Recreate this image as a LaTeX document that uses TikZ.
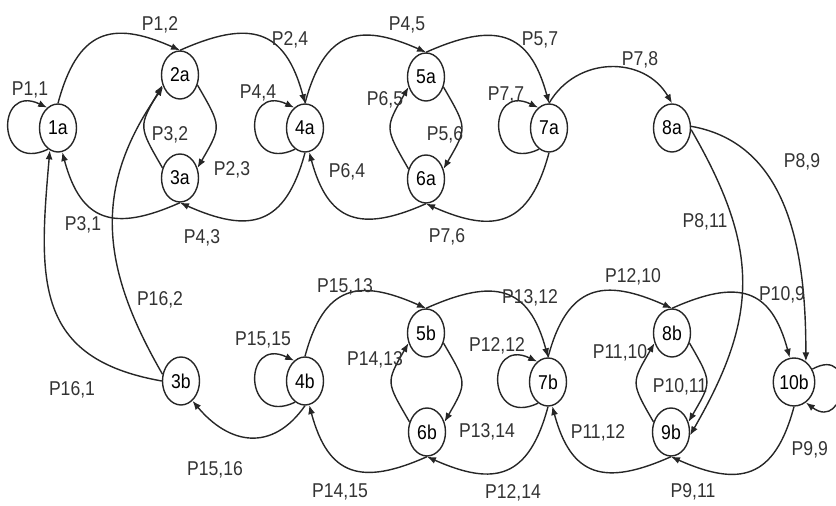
\documentclass[tikz,border=0pt]{standalone}
\usepackage{fontspec}
\setmainfont[FakeStretch=0.88]{Liberation Sans}
\usetikzlibrary{shapes.geometric,arrows.meta}

\begin{document}
\begin{tikzpicture}[x=0.5pt,y=-0.5pt,
    st/.style={draw=black!85,line width=0.7pt,ellipse,minimum width=18.5pt,minimum height=24pt,
        inner sep=0pt,font=\fontsize{10}{11}\selectfont},
    lab/.style={font=\fontsize{10}{11}\selectfont,text=black!80},
    trans/.style={draw=black!85,line width=0.7pt,-{Latex[length=4.5pt,width=3.5pt]},looseness=1.45}]

    \useasboundingbox (0,0) rectangle (836,506);

    % States
    \foreach \t/\x/\y in {1a/58/128, 2a/180/75, 3a/180/178, 4a/305/128,
                          5a/426/77, 6a/426/179, 7a/549/128, 8a/672/128,
                          3b/181/381, 4b/305/381, 5b/426/333, 6b/427/432,
                          7b/548/382, 8b/672/333, 9b/671/432, 10b/794/382} {
        \node[st] (n\t) at (\x,\y) {\t};
    }

    % Big arcs, top row
    \foreach \a/\b in {1a/2a, 4a/5a, 4b/5b, 7b/8b} {
        \draw[trans] (n\a.north) to[out=75,in=156] (n\b.north);
    }
    \foreach \a/\b in {2a/4a.north, 5a/7a.north, 5b/7b.north, 8b/10b.100} {
        \draw[trans] (n\a.north) to[out=24,in=105] (n\b);
    }
    \draw[trans] (n7a.north) to[out=60,in=120,looseness=1.15] (n8a.north);

    % Big arcs, bottom row
    \foreach \a/\b in {4a/3a, 7a/6a, 7b/6b, 10b/9b} {
        \draw[trans] (n\a.south) to[out=255,in=336] (n\b.south);
    }
    \foreach \a/\b in {3a/1a, 6a/4a, 6b/4b, 9b/7b} {
        \draw[trans] (n\a.south) to[out=204,in=285] (n\b.280);
    }
    \draw[trans] (n4b.south) to[out=235,in=310,looseness=1.3] (n3b.-60);

    % Inner pairs
    \foreach \u/\d in {2a/3a, 5a/6a, 5b/6b, 8b/9b} {
        \draw[trans] (n\u.-30) to[out=-60,in=60,looseness=1.5] (n\d.30);
        \draw[trans] (n\d.150) to[out=120,in=240,looseness=1.5] (n\u.210);
    }

    % Long jumps
    \draw[trans] (n8a.5) to[out=-10,in=90,looseness=1] (n10b.60);
    \draw[trans] (n8a.-5) to[out=-60,in=60,looseness=1.15] (n9b.-10);
    \draw[trans] (n3b.west) to[out=170,in=265,looseness=1.3] (n1a.250);
    \draw[trans] (n3b.160) to[out=120,in=235,looseness=1.1] (n2a.215);

    % Self loops
    \foreach \t in {1a,4a,7a,4b,7b} {
        \draw[trans] (n\t.245) .. controls +(-52,25) and +(-52,-25) .. (n\t.118);
    }
    \draw[trans] (n10b.35) .. controls +(45,-25) and +(40,30) .. (n10b.-60);

    % Probabilities
    \foreach \x/\y/\t [count=\k] in {30/90/{1,1}, 160/25/{1,2}, 170/135/{3,2}, 232/170/{2,3},
            83/225/{3,1}, 202/238/{4,3}, 290/40/{2,4}, 258/93/{4,4}, 407/25/{4,5},
            385/100/{6,5}, 445/135/{5,6}, 347/172/{6,4}, 447/237/{7,6}, 540/40/{5,7},
            506/95/{7,7}, 640/60/{7,8}, 802/162/{8,9}, 705/222/{8,11}, 160/300/{16,2},
            72/390/{16,1}, 263/340/{15,15}, 215/470/{15,16}, 345/287/{15,13},
            375/360/{14,13}, 340/492/{14,15}, 530/298/{13,12}, 497/346/{12,12},
            487/432/{13,14}, 513/493/{12,14}, 633/277/{12,10}, 782/295/{10,9},
            620/353/{11,10}, 680/387/{10,11}, 598/433/{11,12}, 693/492/{9,11}} {
        \node[lab] (p\k) at (\x,\y) {P\t};
    }
    \node[lab,anchor=east] (p99) at (835,450) {P9,9};
\end{tikzpicture}
\end{document}
